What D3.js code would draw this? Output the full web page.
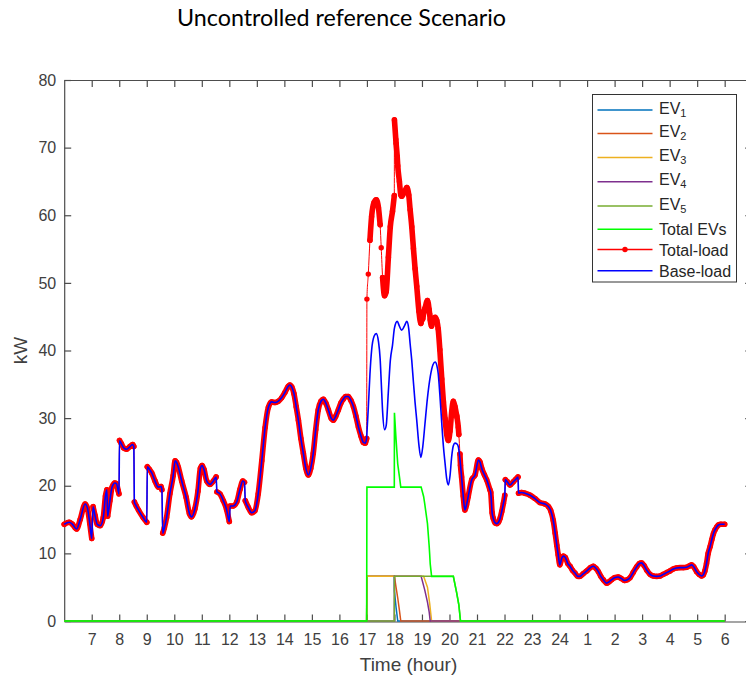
<!DOCTYPE html>
<html>
<head>
<meta charset="utf-8">
<script src="https://cdn.jsdelivr.net/npm/d3@7"></script>
<style>
  body { margin: 0; background: #ffffff; }
  svg { display: block; }
</style>
</head>
<body>
<svg id="chart" width="746" height="675"></svg>
<script>
// ---------------- DATA ----------------
// Base-load [hour, kW]  (hours > 24 are the following morning)
const baseLoad = [
 [6.00,14.3],[6.18,14.6],[6.30,14.3],[6.45,13.6],[6.58,15.0],[6.76,17.3],[6.85,16.6],[6.93,14.4],
 [7.00,12.2],[7.05,16.9],[7.12,15.6],[7.20,14.3],[7.31,14.1],[7.42,15.3],[7.50,18.5],[7.55,19.4],
 [7.58,15.5],[7.66,17.8],[7.74,19.8],[7.84,20.4],[7.90,20.3],[7.96,19.3],[7.99,18.8],[8.01,26.7],
 [8.08,26.2],[8.16,25.6],[8.27,25.4],[8.39,25.8],[8.49,26.1],[8.53,25.8],[8.55,17.6],[8.62,17.0],
 [8.70,16.4],[8.87,15.3],[9.00,14.6],[9.02,22.8],[9.10,22.4],[9.18,21.9],[9.30,20.7],[9.42,19.8],
 [9.52,19.9],[9.55,19.4],[9.58,13.0],[9.64,13.8],[9.72,15.3],[9.84,18.8],[9.96,21.5],[10.03,23.7],
 [10.08,23.5],[10.15,22.7],[10.27,20.7],[10.43,18.3],[10.55,15.9],[10.63,15.4],[10.75,16.6],[10.86,19.2],
 [10.95,22.6],[11.01,23.0],[11.08,22.4],[11.18,20.7],[11.30,20.2],[11.42,20.7],[11.52,21.3],[11.55,19.1],
 [11.66,18.8],[11.78,17.8],[11.90,16.5],[12.00,14.7],[12.03,17.0],[12.14,17.0],[12.27,17.6],[12.39,19.5],
 [12.49,20.7],[12.55,20.5],[12.58,17.8],[12.69,16.8],[12.81,16.0],[12.93,16.3],[13.05,18.8],[13.18,23.7],
 [13.30,28.6],[13.42,31.6],[13.54,32.4],[13.66,32.3],[13.78,32.5],[13.90,33.0],[14.02,33.8],[14.14,34.7],
 [14.20,34.9],[14.27,34.6],[14.35,33.6],[14.43,31.7],[14.51,29.7],[14.60,27.0],[14.69,24.8],[14.78,22.6],
 [14.87,21.6],[14.96,22.6],[15.05,24.8],[15.14,28.3],[15.23,31.2],[15.33,32.5],[15.42,32.8],[15.51,32.2],
 [15.60,31.2],[15.70,30.0],[15.78,29.7],[15.87,30.3],[15.96,31.2],[16.05,32.2],[16.14,32.8],[16.23,33.2],
 [16.32,33.2],[16.42,32.6],[16.51,31.7],[16.60,30.3],[16.69,28.7],[16.78,27.4],[16.87,26.4],[16.94,26.3],
 [16.99,27.0],[17.00,27.8],[17.05,31.5],[17.11,36.5],[17.17,40.0],[17.26,42.1],[17.34,42.5],[17.42,41.3],
 [17.48,38.8],[17.52,35.4],[17.57,31.0],[17.64,28.3],[17.70,28.9],[17.78,34.0],[17.85,38.5],[17.93,40.8],
 [18.00,43.3],[18.10,44.3],[18.18,43.6],[18.26,43.0],[18.36,43.6],[18.45,44.3],[18.52,43.2],[18.57,41.0],
 [18.63,38.5],[18.69,35.3],[18.75,32.3],[18.81,29.7],[18.89,26.0],[18.96,24.2],[19.03,25.8],[19.11,29.2],
 [19.20,33.0],[19.30,36.1],[19.40,37.9],[19.48,38.3],[19.54,37.8],[19.59,36.6],[19.65,33.5],[19.72,29.2],
 [19.78,25.8],[19.84,23.3],[19.90,21.0],[19.96,20.1],[20.02,21.5],[20.08,24.3],[20.14,25.9],[20.20,26.3],
 [20.27,26.2],[20.32,25.8],[20.38,23.9],[20.44,21.3],[20.50,18.5],[20.56,16.4],[20.62,17.2],[20.68,18.4],
 [20.81,20.9],[20.93,21.6],[21.05,23.8],[21.11,23.5],[21.17,22.6],[21.27,21.6],[21.35,20.9],[21.47,19.4],
 [21.50,19.0],[21.55,16.0],[21.59,15.2],[21.66,14.5],[21.72,14.4],[21.78,14.6],[21.84,15.2],[21.90,16.2],
 [21.96,17.4],[22.01,18.6],[22.03,20.9],[22.10,20.6],[22.20,20.1],[22.32,20.6],[22.42,21.0],[22.49,21.3],
 [22.51,18.9],[22.62,19.0],[22.74,18.9],[22.93,18.6],[23.11,18.1],[23.29,17.5],[23.47,17.3],[23.60,16.9],
 [23.68,16.3],[23.77,14.9],[23.84,13.0],[23.90,11.2],[23.95,9.8],[24.01,8.3],[24.08,9.3],[24.14,9.6],
 [24.21,9.4],[24.30,8.5],[24.38,8.1],[24.47,7.5],[24.56,7.1],[24.66,6.6],[24.74,6.6],[24.86,7.0],
 [24.99,7.4],[25.12,7.9],[25.23,8.1],[25.32,7.8],[25.41,7.3],[25.50,6.6],[25.59,6.1],[25.71,5.6],
 [25.80,5.8],[25.89,6.1],[26.00,6.4],[26.13,6.5],[26.24,6.3],[26.36,6.0],[26.46,6.1],[26.56,6.4],
 [26.68,7.2],[26.80,8.0],[26.90,8.5],[26.98,8.6],[27.07,8.2],[27.17,7.5],[27.29,6.9],[27.41,6.65],
 [27.53,6.6],[27.65,6.65],[27.77,6.9],[27.89,7.15],[28.01,7.4],[28.13,7.7],[28.25,7.85],[28.37,7.9],
 [28.50,7.9],[28.62,7.95],[28.72,8.15],[28.80,8.3],[28.88,8.0],[28.98,7.3],[29.07,6.9],[29.16,6.65],
 [29.22,6.8],[29.28,7.4],[29.34,8.5],[29.40,10.0],[29.47,11.0],[29.53,12.0],[29.59,12.9],[29.65,13.5],
 [29.71,13.9],[29.77,14.2],[29.86,14.3],[30.00,14.3]
];

// EV charging profiles [hour, kW]
const ev1 = [[6,0],[16.99,0],[17.0,6.6],[17.995,6.6],[18.0,4.4],[18.06,2.0],[18.12,0],[30,0]];
const ev2 = [[6,0],[16.99,0],[17.0,6.6],[18.0,6.6],[18.05,5.2],[18.12,3.4],[18.18,1.6],[18.23,0],[30,0]];
const ev3 = [[6,0],[16.99,0],[17.0,6.6],[19.06,6.6],[19.2,5.0],[19.28,2.6],[19.35,0],[30,0]];
const ev4 = [[6,0],[17.995,0],[18.0,6.6],[18.97,6.6],[19.1,4.6],[19.2,2.8],[19.26,1.4],[19.3,0],[30,0]];
const ev5 = [[6,0],[17.995,0],[18.0,6.6],[20.14,6.6],[20.26,4.2],[20.34,2.4],[20.4,0],[30,0]];

const xTicks = [7,8,9,10,11,12,13,14,15,16,17,18,19,20,21,22,23,24,25,26,27,28,29,30];
const xTickLabels = ["7","8","9","10","11","12","13","14","15","16","17","18","19","20","21","22","23","24","1","2","3","4","5","6"];
const yTicks = [0,10,20,30,40,50,60,70,80];
const seriesNames = ["EV","EV","EV","EV","EV","Total EVs","Total-load","Base-load"];
const seriesSubs = ["1","2","3","4","5","","",""];
const seriesColors = ["#0072BD","#D95319","#EDB120","#7E2F8E","#77AC30","#00FF00","#FF0000","#0000FF"];

// ---------------- DERIVED SERIES ----------------
const evSeries = [ev1, ev2, ev3, ev4, ev5];
const pw = s => d3.scaleLinear().domain(s.map(d => d[0])).range(s.map(d => d[1])).clamp(true);
const evFns = evSeries.map(pw);
const evTimes = Array.from(new Set(evSeries.flatMap(s => s.map(d => d[0])))).sort((a, b) => a - b);
const totalEVs = evTimes.map(t => [t, d3.sum(evFns, f => f(t))]);
const totalEVFn = pw(totalEVs);
const baseFn = pw(baseLoad);
const loadTimes = Array.from(new Set(baseLoad.map(d => d[0]).concat(evTimes))).sort((a, b) => a - b);
const totalLoad = loadTimes.map(t => [t, baseFn(t) + totalEVFn(t)]);

// ---------------- CHART ----------------
const svg = d3.select("#chart");
const x = d3.scaleLinear().domain([6, 31]).range([64.2, 752.2]);
const y = d3.scaleLinear().domain([0, 80]).range([621, 80]);
const axisColor = "#4d4d4d";
const tickFont = "'Liberation Sans', Arial, Helvetica, sans-serif";

function styleAxis(g) {
  g.attr("font-family", tickFont).attr("font-size", 16);
  g.selectAll(".domain").attr("stroke", axisColor).attr("stroke-width", 1.2);
  g.selectAll(".tick line").attr("stroke", axisColor).attr("stroke-width", 1.2);
  g.selectAll(".tick text").attr("fill", "#404040");
}

svg.append("g").attr("transform", "translate(0,621.5)")
  .call(d3.axisBottom(x).tickValues(xTicks).tickFormat((d, i) => xTickLabels[i])
    .tickSizeInner(-7).tickSizeOuter(0).tickPadding(12)).call(styleAxis);
svg.append("g").attr("transform", "translate(0,80)")
  .call(d3.axisTop(x).tickValues(xTicks).tickFormat(() => "")
    .tickSizeInner(-7).tickSizeOuter(0)).call(styleAxis);
svg.append("g").attr("transform", "translate(64.2,0)")
  .call(d3.axisLeft(y).tickValues(yTicks).tickSizeInner(-7).tickSizeOuter(0).tickPadding(8))
  .call(styleAxis);
svg.append("g").attr("transform", "translate(752.2,0)")
  .call(d3.axisRight(y).tickValues(yTicks).tickFormat(() => "")
    .tickSizeInner(-7).tickSizeOuter(0)).call(styleAxis);

// axis labels
svg.append("text").attr("x", 408.5).attr("y", 671).attr("text-anchor", "middle")
  .attr("font-family", tickFont).attr("font-size", 19).attr("fill", "#404040").text("Time (hour)");
svg.append("text").attr("transform", "translate(27,350.5) rotate(-90)").attr("text-anchor", "middle")
  .attr("font-family", tickFont).attr("font-size", 19).attr("fill", "#404040").text("kW");

// title
svg.append("text").attr("x", 341.5).attr("y", 26).attr("text-anchor", "middle")
  .attr("font-family", "Lato, 'Open Sans', sans-serif").attr("font-size", 23.3).attr("fill", "#000")
  .text("Uncontrolled reference Scenario");

const lin = d3.line().x(d => x(d[0])).y(d => y(d[1]));
const smooth = d3.line().x(d => x(d[0])).y(d => y(d[1])).curve(d3.curveMonotoneX);
const plot = svg.append("g");

// EV lines
evSeries.forEach((s, i) => {
  plot.append("path").datum(s).attr("d", lin).attr("fill", "none")
    .attr("stroke", seriesColors[i]).attr("stroke-width", 1.5);
});
plot.append("path").datum(totalEVs).attr("d", lin).attr("fill", "none")
  .attr("stroke", seriesColors[5]).attr("stroke-width", 1.6);

// Total-load: marker band split at jumps, thin line, markers
const segs = [];
let cur = [totalLoad[0]];
for (let i = 1; i < totalLoad.length; i++) {
  const a = totalLoad[i - 1], b = totalLoad[i];
  const dv = Math.abs(b[1] - a[1]), dt = b[0] - a[0];
  if (dv > 2 && dv / dt > 70) { segs.push(cur); cur = [b]; } else cur.push(b);
}
segs.push(cur);
segs.forEach(sg => {
  if (sg.length > 1) {
    plot.append("path").datum(sg).attr("d", smooth).attr("fill", "none")
      .attr("stroke", seriesColors[6]).attr("stroke-width", 5.6)
      .attr("stroke-linecap", "round").attr("stroke-linejoin", "round");
  }
});
plot.append("path").datum(totalLoad).attr("d", smooth).attr("fill", "none")
  .attr("stroke", seriesColors[6]).attr("stroke-width", 1);
plot.selectAll("circle.tl").data(totalLoad).enter().append("circle")
  .attr("class", "tl").attr("cx", d => x(d[0])).attr("cy", d => y(d[1]))
  .attr("r", 2.7).attr("fill", seriesColors[6]);

// Base-load
plot.append("path").datum(baseLoad).attr("d", smooth).attr("fill", "none")
  .attr("stroke", seriesColors[7]).attr("stroke-width", 1.6);

// ---------------- LEGEND ----------------
const lg = svg.append("g");
lg.append("rect").attr("x", 592.5).attr("y", 94.5).attr("width", 144).attr("height", 187.5)
  .attr("fill", "#fff").attr("stroke", "#333").attr("stroke-width", 1);
const rowY = [110, 133.5, 157.5, 181.7, 206, 229.3, 249.5, 270.7];
seriesNames.forEach((name, i) => {
  const yy = rowY[i];
  lg.append("line").attr("x1", 597.5).attr("x2", 652.5).attr("y1", yy).attr("y2", yy)
    .attr("stroke", seriesColors[i]).attr("stroke-width", 1.5);
  if (i === 6) {
    lg.append("circle").attr("cx", 625).attr("cy", yy).attr("r", 2.7).attr("fill", seriesColors[i]);
  }
  const t = lg.append("text").attr("x", 659).attr("y", seriesSubs[i] ? yy + 3.5 : yy + 6)
    .attr("font-family", tickFont).attr("font-size", 16).attr("fill", "#262626").text(name);
  if (seriesSubs[i]) {
    t.append("tspan").attr("font-size", 11).attr("dy", 3).text(seriesSubs[i]);
  }
});
</script>
</body>
</html>
